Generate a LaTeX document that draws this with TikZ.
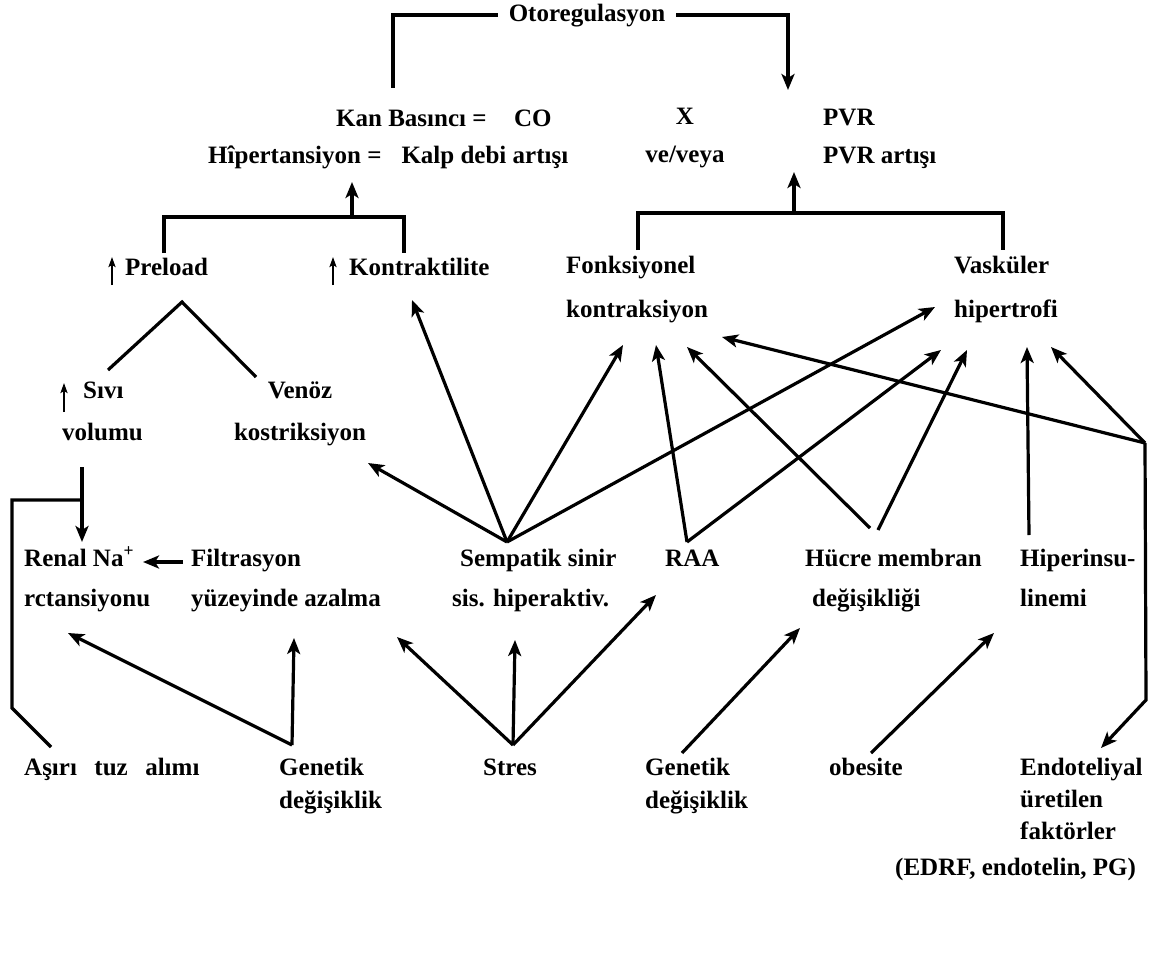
\documentclass[tikz,border=0pt]{standalone}
\usepackage{fontspec}
\setmainfont{Liberation Serif}
\usetikzlibrary{arrows.meta}

\begin{document}
\begin{tikzpicture}[x=1pt,y=-1pt,
    lbl/.style={font=\bfseries\fontsize{25}{#1}\selectfont, align=left, inner sep=0pt, anchor=base west},
    lbl/.default=40,
    ln/.style={line width=3.2pt},
    arr/.style={ln, -{Stealth[length=16pt,width=13pt,inset=4pt]}},
    tick/.style={line width=2.6pt, -{Stealth[length=10pt,width=7pt,inset=2pt]}}]
    \useasboundingbox (0,0) rectangle (1154,961);

    % Otoregulasyon loop at the top
    \node[lbl, anchor=base, inner xsep=11pt] (oto) at (587,21) {Otoregulasyon};
    \coordinate (kanTop) at (393,88);
    \coordinate (pvrTop) at (788,90);
    \draw[ln] (oto.west) -| (kanTop);
    \draw[arr] (oto.east) -| (pvrTop);

    % Blood pressure equation (multi-line nodes sit on their last baseline)
    \node[lbl] (kan) at (336,126) {Kan Basıncı =\hspace{1.1em}CO};
    \node[lbl] (hip) at (208,163) {Hîpertansiyon =\hspace{0.8em}Kalp debi artışı};
    \node[lbl=38, align=center, anchor=base] (xv) at (685,162) {X\\ve/veya};
    \node[lbl=38] (pvr) at (823,163) {PVR\\PVR artışı};

    % Cardiac output branch
    \node[lbl] (pre) at (125,275) {Preload};
    \node[lbl] (kont) at (349,275) {Kontraktilite};
    \draw[tick] ([xshift=-13pt,yshift=-10pt]pre.base west) -- ++(0,-28);
    \draw[tick] ([xshift=-16pt,yshift=-10pt]kont.base west) -- ++(0,-28);
    \coordinate (preTop) at (164,253);
    \coordinate (kontTop) at (404,253);
    \coordinate (coJoin) at (352,217);
    \coordinate (hipBot) at (352,182);
    \draw[ln] (preTop) |- (coJoin) -| (kontTop);
    \draw[arr] (coJoin) -- (hipBot);

    % Resistance branch
    \node[lbl=44] (fonk) at (566,317) {Fonksiyonel\\kontraksiyon};
    \node[lbl=44] (vas) at (954,317) {Vasküler\\hipertrofi};
    \coordinate (fonkTop) at (638,250);
    \coordinate (vasTop) at (1003,250);
    \coordinate (pvrJoin) at (794,213);
    \coordinate (pvrBot) at (794,172);
    \draw[ln] (fonkTop) |- (pvrJoin) -| (vasTop);
    \draw[arr] (pvrJoin) -- (pvrBot);

    % Preload split
    \node[lbl=42] (sivi) at (62,440) {\hspace*{21pt}Sıvı\\volumu};
    \node[lbl=42, align=center, anchor=base] (venoz) at (300,440) {Venöz\\kostriksiyon};
    \draw[tick] ([xshift=2pt,yshift=28pt]sivi.base west) -- ++(0,-29);
    \coordinate (preApex) at (182,302);
    \coordinate (siviTop) at (108,370);
    \coordinate (venozTop) at (256,377);
    \draw[ln] (siviTop) -- (preApex) -- (venozTop);

    % Middle row
    \node[lbl] (renal) at (24,606) {Renal Na\textsuperscript{+}\\rctansiyonu};
    \node[lbl] (filt) at (191,606) {Filtrasyon\\yüzeyinde azalma};
    \node[lbl] (symp) at (452,606) {\hspace*{8pt}Sempatik sinir\\sis. hiperaktiv.};
    \node[lbl] (raa) at (665,566) {RAA};
    \node[lbl] (huc) at (805,606) {Hücre membran\\\hspace*{7pt}değişikliği};
    \node[lbl] (hiper) at (1020,606) {Hiperinsu-\\linemi};

    % Bottom row
    \node[lbl] (tuz) at (24,775) {Aşırı\hspace{0.7em}tuz\hspace{0.7em}alımı};
    \node[lbl=33] (genA) at (279,808) {Genetik\\değişiklik};
    \node[lbl] (stres) at (483,775) {Stres};
    \node[lbl=33] (genB) at (645,808) {Genetik\\değişiklik};
    \node[lbl] (obes) at (829,775) {obesite};
    \node[lbl=32] (endo) at (1020,839) {Endoteliyal\\üretilen\\faktörler};
    \node[lbl] (edrf) at (895,875) {(EDRF, endotelin, PG)};

    % Sodium retention
    \coordinate (siviBot) at (82,467);
    \coordinate (renalTop) at (82,542);
    \coordinate (saltJoin) at (82,500);
    \coordinate (tuzTop) at (51,747);
    \coordinate (filtL) at (183,562);
    \coordinate (renalR) at (143,562);
    \draw[arr] (siviBot) -- (renalTop);
    \draw[ln] (tuzTop) -- (12,708) |- (saltJoin);
    \draw[arr] (filtL) -- (renalR);

    % Arrow tips on the upper labels
    \coordinate (venozTip) at (368,463);
    \coordinate (kontTip) at (412,300);
    \coordinate (fonkTipA) at (623,345);
    \coordinate (fonkTipB) at (656,345);
    \coordinate (fonkTipC) at (687,347);
    \coordinate (fonkTipD) at (722,337);
    \coordinate (vasTipA) at (935,307);
    \coordinate (vasTipB) at (941,350);
    \coordinate (vasTipC) at (967,350);
    \coordinate (vasTipD) at (1027,347);
    \coordinate (vasTipE) at (1051,347);

    % Sympathetic activity fan
    \coordinate (sympTop) at (507,542);
    \foreach \t in {venozTip,kontTip,fonkTipA,vasTipA}
        \draw[arr] (sympTop) -- (\t);

    % RAA, membrane and insulin
    \coordinate (raaTop) at (687,542);
    \draw[arr] (raaTop) -- (fonkTipB);
    \draw[arr] (raaTop) -- (vasTipB);
    \coordinate (hucTopL) at (870,528);
    \coordinate (hucTopR) at (878,530);
    \draw[arr] (hucTopL) -- (fonkTipC);
    \draw[arr] (hucTopR) -- (vasTipC);
    \coordinate (hiperTop) at (1029,535);
    \draw[arr] (hiperTop) -- (vasTipD);

    % Endothelial factors
    \coordinate (endoJ) at (1145,443);
    \coordinate (endoBend) at (1146,700);
    \coordinate (endoTip) at (1101,748);
    \draw[arr] (endoJ) -- (fonkTipD);
    \draw[arr] (endoJ) -- (vasTipE);
    \draw[arr] (endoJ) -- (endoBend) -- (endoTip);

    % Causes from below
    \coordinate (genATop) at (292,745);
    \draw[arr] (genATop) -- (68,633);
    \draw[arr] (genATop) -- (294,638);
    \coordinate (stresTop) at (513,745);
    \draw[arr] (stresTop) -- (397,637);
    \draw[arr] (stresTop) -- (515,640);
    \draw[arr] (stresTop) -- (656,595);
    \coordinate (genBTop) at (682,753);
    \draw[arr] (genBTop) -- (800,628);
    \coordinate (obesTop) at (871,753);
    \draw[arr] (obesTop) -- (994,633);
\end{tikzpicture}
\end{document}
